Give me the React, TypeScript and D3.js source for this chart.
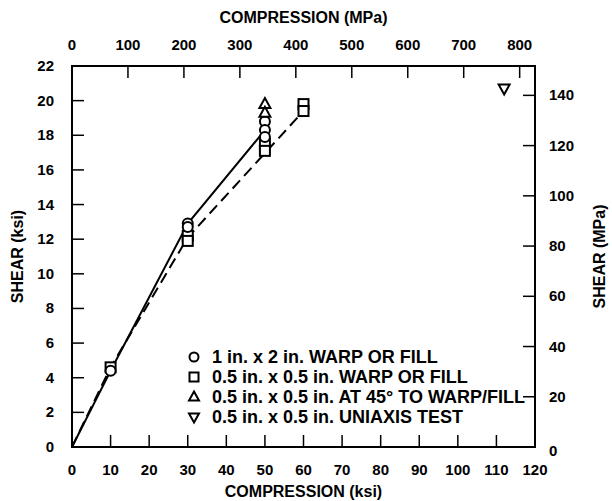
import React from "react";
import * as d3 from "d3";

const KSI_TO_MPA = 6.895;
const xTicksKsi = [0, 10, 20, 30, 40, 50, 60, 70, 80, 90, 100, 110, 120];
const xTicksMpa = [0, 100, 200, 300, 400, 500, 600, 700, 800];
const yTicksKsi = [0, 2, 4, 6, 8, 10, 12, 14, 16, 18, 20, 22];
const yTicksMpa = [0, 20, 40, 60, 80, 100, 120, 140];

const circles: [number, number][] = [[10, 4.4], [30, 12.9], [30, 12.7], [50, 18.8], [50, 18.3], [50, 17.9]];
const squares: [number, number][] = [[10, 4.6], [30, 12.2], [30, 11.9], [50, 17.5], [50, 17.1], [60, 19.8], [60, 19.4]];
const trisUp: [number, number][] = [[50, 19.8], [50, 19.3]];
const trisDown: [number, number][] = [[112, 20.7]];
const solidLine: [number, number][] = [[0, 0], [10, 4.4], [30, 12.9], [50, 18.3]];
const dashedLine: [number, number][] = [[0, 0], [10, 4.6], [30, 12.1], [60, 19.4]];

const legendItems = [
  { sym: "circle", label: "1 in. x 2 in. WARP OR FILL" },
  { sym: "square", label: "0.5 in. x 0.5 in. WARP OR FILL" },
  { sym: "up", label: "0.5 in. x 0.5 in. AT 45° TO WARP/FILL" },
  { sym: "down", label: "0.5 in. x 0.5 in. UNIAXIS TEST" },
];

const W = 612, H = 501;
const L = 72, R = 535, T = 66, B = 447;
const font = "'Liberation Sans', Arial, sans-serif";

function Marker({ sym, x, y, s = 5 }: { sym: string; x: number; y: number; s?: number }) {
  if (sym === "circle") return <circle cx={x} cy={y} r={s} fill="white" stroke="black" strokeWidth={2} />;
  if (sym === "square") return <rect x={x - s} y={y - s} width={2 * s} height={2 * s} fill="white" stroke="black" strokeWidth={2} />;
  if (sym === "up") return <path d={`M${x},${y - s - 1}L${x + s + 0.5},${y + s - 1}L${x - s - 0.5},${y + s - 1}Z`} fill="white" stroke="black" strokeWidth={2} />;
  return <path d={`M${x},${y + s + 1}L${x + s + 0.5},${y - s + 1}L${x - s - 0.5},${y - s + 1}Z`} fill="white" stroke="black" strokeWidth={2} />;
}

export default function App() {
  const x = d3.scaleLinear().domain([0, 120]).range([L, R]);
  const xM = d3.scaleLinear().domain([0, 120 * KSI_TO_MPA]).range([L, R]);
  const y = d3.scaleLinear().domain([0, 22]).range([B, T]);
  const yM = d3.scaleLinear().domain([0, 22 * KSI_TO_MPA]).range([B, T]);
  const line = d3.line<[number, number]>().x(d => x(d[0])).y(d => y(d[1]));
  const tl = 12;
  return (
    <svg width={W} height={H} style={{ position: "absolute", left: 0, top: 0, background: "white" }} fontFamily={font} fontWeight="bold">
      <rect x={0} y={0} width={W} height={H} fill="white" />
      <rect x={L} y={T} width={R - L} height={B - T} fill="none" stroke="black" strokeWidth={2} />
      {xTicksKsi.map(t => (
        <g key={"bx" + t}>
          <line x1={x(t)} x2={x(t)} y1={B} y2={B - tl} stroke="black" strokeWidth={1.5} />
          <text x={x(t)} y={B + 28} textAnchor="middle" fontSize={15}>{t}</text>
        </g>
      ))}
      {xTicksMpa.map(t => (
        <g key={"tx" + t}>
          <line x1={xM(t)} x2={xM(t)} y1={T} y2={T + tl} stroke="black" strokeWidth={1.5} />
          <text x={xM(t)} y={T - 16} textAnchor="middle" fontSize={15}>{t}</text>
        </g>
      ))}
      {yTicksKsi.map(t => (
        <g key={"ly" + t}>
          <line x1={L} x2={L + tl} y1={y(t)} y2={y(t)} stroke="black" strokeWidth={1.5} />
          <text x={L - 18} y={y(t) + 5} textAnchor="end" fontSize={15}>{t}</text>
        </g>
      ))}
      {yTicksMpa.map(t => (
        <g key={"ry" + t}>
          <line x1={R} x2={R - tl} y1={yM(t)} y2={yM(t)} stroke="black" strokeWidth={1.5} />
          <text x={R + 14} y={yM(t) + 5 + (t === 0 ? 4 : 0)} textAnchor="start" fontSize={15}>{t}</text>
        </g>
      ))}
      <text x={(L + R) / 2} y={B + 50} textAnchor="middle" fontSize={16}>COMPRESSION (ksi)</text>
      <text x={(L + R) / 2} y={T - 43} textAnchor="middle" fontSize={16}>COMPRESSION (MPa)</text>
      <text transform={`translate(23,${(T + B) / 2}) rotate(-90)`} textAnchor="middle" fontSize={16}>SHEAR (ksi)</text>
      <text transform={`translate(605,${(T + B) / 2}) rotate(-90)`} textAnchor="middle" fontSize={16}>SHEAR (MPa)</text>
      <path d={line(solidLine) || ""} fill="none" stroke="black" strokeWidth={2} />
      <path d={line(dashedLine) || ""} fill="none" stroke="black" strokeWidth={2} strokeDasharray="11,6" />
      {squares.map((d, i) => <Marker key={"s" + i} sym="square" x={x(d[0])} y={y(d[1])} />)}
      {circles.map((d, i) => <Marker key={"c" + i} sym="circle" x={x(d[0])} y={y(d[1])} />)}
      {trisUp.map((d, i) => <Marker key={"u" + i} sym="up" x={x(d[0])} y={y(d[1])} />)}
      {trisDown.map((d, i) => <Marker key={"d" + i} sym="down" x={x(d[0])} y={y(d[1])} />)}
      {legendItems.map((it, i) => (
        <g key={"lg" + i}>
          <Marker sym={it.sym} x={194} y={357 + i * 20} s={4.5} />
          <text x={212} y={357 + i * 20 + 6} fontSize={18}>{it.label}</text>
        </g>
      ))}
    </svg>
  );
}
